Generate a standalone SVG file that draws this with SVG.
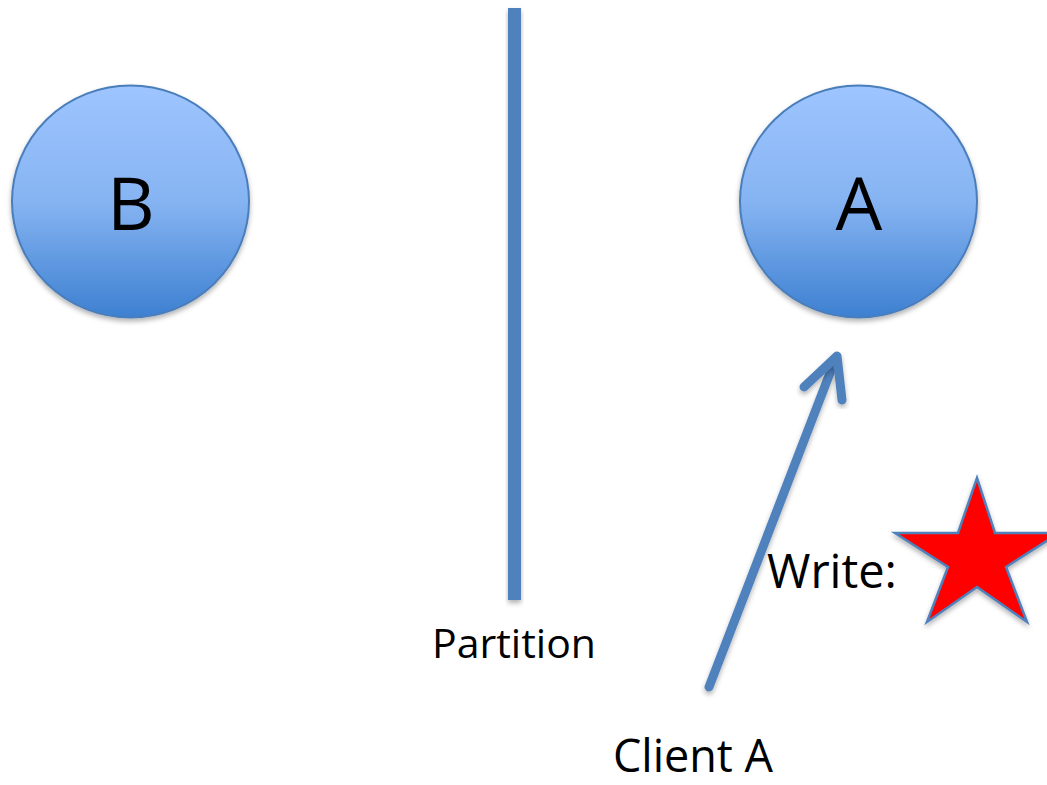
<svg xmlns="http://www.w3.org/2000/svg" width="1047" height="785" viewBox="0 0 1047 785">
<defs>
<linearGradient id="nodeFill" x1="0" y1="0" x2="0" y2="1">
<stop offset="0" stop-color="#9EC5FF"/>
<stop offset="0.5" stop-color="#86B4F2"/>
<stop offset="1" stop-color="#3D80D1"/>
</linearGradient>
<filter id="shadow" x="-20%" y="-20%" width="140%" height="140%">
<feDropShadow dx="0" dy="3" stdDeviation="2.5" flood-color="#000" flood-opacity="0.3"/>
</filter>
</defs>
<style>
.node{fill:url(#nodeFill);stroke:#4A7EBB;stroke-width:2;filter:url(#shadow)}
.big{font-family:"Open Sans","Liberation Sans",sans-serif;font-size:74px;fill:#000;text-anchor:middle}
.lbl{font-family:"Open Sans","Liberation Sans",sans-serif;fill:#000}
.conn{fill:none;stroke:#4F81BD;stroke-width:9;stroke-linecap:round;stroke-linejoin:round;filter:url(#shadow)}
</style>
<rect width="1047" height="785" fill="#fff"/>
<g id="node-B">
<ellipse class="node" cx="130.5" cy="201.5" rx="118.5" ry="116"/>
<text class="big" x="131" y="230">B</text>
</g>
<g id="node-A">
<ellipse class="node" cx="858.5" cy="201.5" rx="118.5" ry="116"/>
<text class="big" x="859" y="230">A</text>
</g>
<g id="partition">
<rect x="508" y="8" width="13" height="592" fill="#4F81BD" filter="url(#shadow)"/>
<text class="lbl" x="514" y="658" font-size="41" text-anchor="middle">Partition</text>
</g>
<g id="client-A">
<text class="lbl" x="693" y="772" font-size="45" text-anchor="middle">Client A</text>
</g>
<g id="write">
<text class="lbl" x="767" y="588" font-size="47">Write:</text>
<polygon points="977,478 995,533 1059,533 1006,567 1027,622 977,587 927,622 948,567 895,533 958,533" fill="#FF0000" stroke="#4F81BD" stroke-width="2.5" stroke-linejoin="miter" filter="url(#shadow)"/>
</g>
<g id="connectors">
<line class="conn" x1="709" y1="687" x2="835" y2="360"/>
<polyline class="conn" points="804,387 837,356 842,400"/>
</g>
</svg>
